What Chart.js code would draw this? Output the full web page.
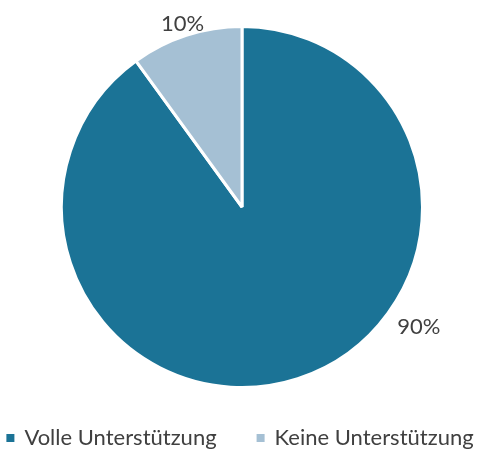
<!DOCTYPE html>
<html>
<head>
<meta charset="utf-8">
<script src="https://cdn.jsdelivr.net/npm/chart.js@4"></script>
<style>
  html, body { margin: 0; padding: 0; background: #fff; }
  #wrap { width: 480px; height: 450px; }
</style>
</head>
<body>
<div id="wrap"><canvas id="pie" width="480" height="450"></canvas></div>
<script>
// data
const categories = ['Volle Unterstützung', 'Keine Unterstützung'];
const shares = [90, 10];
const valueLabels = ['90%', '10%'];

const sliceColors = ['#1b7396', '#a5c0d4'];
const textColor = '#404040';
const fontFamily = 'Lato, "Open Sans", sans-serif';

// where each value label sits: fraction along the slice, distance outside the rim
const labelPlace = [
    { frac: 0.383, offset: 33 },
    { frac: 0.5, offset: 12 }
];

// value labels outside the pie
const valueLabelPlugin = {
    id: 'valueLabels',
    afterDatasetsDraw(chart) {
        const ctx = chart.ctx;
        const arcs = chart.getDatasetMeta(0).data;
        ctx.save();
        ctx.font = '22px ' + fontFamily;
        ctx.fillStyle = textColor;
        ctx.textAlign = 'center';
        ctx.textBaseline = 'middle';
        arcs.forEach((arc, i) => {
            const p = arc.getProps(['x', 'y', 'startAngle', 'endAngle', 'outerRadius'], true);
            const a = p.startAngle + labelPlace[i].frac * (p.endAngle - p.startAngle);
            const r = p.outerRadius + labelPlace[i].offset;
            ctx.fillText(valueLabels[i], p.x + r * Math.cos(a), p.y + r * Math.sin(a));
        });
        ctx.restore();
    }
};

// legend drawn by hand so the gap between items can be wide
const legendPlugin = {
    id: 'bottomLegend',
    afterDraw(chart) {
        const ctx = chart.ctx;
        const box = 8, gapText = 10, gapItems = 40;
        const y = 438;
        ctx.save();
        ctx.font = '22px ' + fontFamily;
        ctx.textBaseline = 'middle';
        const widths = categories.map(c => box + gapText + ctx.measureText(c).width);
        const total = widths.reduce((s, w) => s + w, 0) + gapItems * (categories.length - 1);
        let x = (chart.width - total) / 2;
        categories.forEach((c, i) => {
            ctx.fillStyle = sliceColors[i];
            ctx.fillRect(x, y - box / 2, box, box);
            ctx.fillStyle = textColor;
            ctx.fillText(c, x + box + gapText, y);
            x += widths[i] + gapItems;
        });
        ctx.restore();
    }
};

new Chart(document.getElementById('pie').getContext('2d'), {
    type: 'pie',
    data: {
        labels: categories,
        datasets: [{
            data: shares,
            backgroundColor: sliceColors,
            borderColor: '#ffffff',
            borderWidth: 3
        }]
    },
    options: {
        responsive: false,
        animation: false,
        layout: {
            padding: { top: 25, bottom: 61, left: 60, right: 56 }
        },
        plugins: {
            legend: { display: false },
            tooltip: { enabled: false }
        }
    },
    plugins: [valueLabelPlugin, legendPlugin]
});
</script>
</body>
</html>
